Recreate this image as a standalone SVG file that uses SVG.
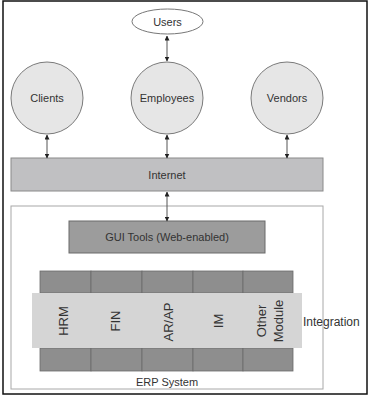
<svg xmlns="http://www.w3.org/2000/svg" width="369" height="400" viewBox="0 0 369 400">
<defs>
<marker id="ah" viewBox="0 0 10 10" refX="9" refY="5" markerWidth="5" markerHeight="5" orient="auto-start-reverse" markerUnits="userSpaceOnUse">
<path d="M0,0 L10,5 L0,10 z" fill="#222"/>
</marker>
<style>
text{font-family:"Liberation Sans",Arial,sans-serif;fill:#333}
.lbl{font-size:11px;text-anchor:middle}
.mod{font-size:13px;text-anchor:middle}
.circ{fill:#e6e6e6;stroke:#7a7a7a;stroke-width:1}
.bar{fill:#8e8e8e;stroke:#6a6a6a;stroke-width:0.8}
.con{stroke:#555;stroke-width:1;fill:none;marker-start:url(#ah);marker-end:url(#ah)}
</style>
</defs>
<rect x="3" y="1" width="364" height="393" fill="#fff" stroke="#111" stroke-width="1.5"/>
<g id="erp">
<rect x="11" y="206" width="312" height="183" fill="#fff" stroke="#a8a8a8" stroke-width="1"/>
<text class="lbl" x="167" y="386">ERP System</text>
</g>
<g id="users">
<ellipse cx="167.5" cy="21.5" rx="35.5" ry="12.5" fill="#fff" stroke="#777"/>
<text class="lbl" x="167.5" y="26">Users</text>
</g>
<g id="clients">
<circle class="circ" cx="47" cy="98" r="36"/>
<text class="lbl" x="47" y="102">Clients</text>
</g>
<g id="employees">
<circle class="circ" cx="167" cy="98" r="36"/>
<text class="lbl" x="167" y="102">Employees</text>
</g>
<g id="vendors">
<circle class="circ" cx="287" cy="98" r="36"/>
<text class="lbl" x="287" y="102">Vendors</text>
</g>
<g id="internet">
<rect x="11" y="158" width="312" height="33" fill="#c0c0c2" stroke="#8a8a8a"/>
<text class="lbl" x="167" y="178.5">Internet</text>
</g>
<g id="gui">
<rect x="69" y="221" width="196" height="32" fill="#9c9c9c" stroke="#6a6a6a"/>
<text class="lbl" x="167" y="241">GUI Tools (Web-enabled)</text>
</g>
<g id="modules">
<rect class="bar" x="40" y="271" width="51" height="22"/>
<rect class="bar" x="91" y="271" width="51" height="22"/>
<rect class="bar" x="142" y="271" width="51" height="22"/>
<rect class="bar" x="193" y="271" width="50" height="22"/>
<rect class="bar" x="243" y="271" width="50" height="22"/>
<rect class="bar" x="40" y="348" width="51" height="23"/>
<rect class="bar" x="91" y="348" width="51" height="23"/>
<rect class="bar" x="142" y="348" width="51" height="23"/>
<rect class="bar" x="193" y="348" width="50" height="23"/>
<rect class="bar" x="243" y="348" width="50" height="23"/>
</g>
<g id="integration">
<rect x="32" y="293" width="270" height="55" fill="#d5d5d5"/>
<text x="303" y="326" style="font-size:12px">Integration</text>
<text class="mod" transform="translate(67.5,321) rotate(-90)">HRM</text>
<text class="mod" transform="translate(120,321) rotate(-90)">FIN</text>
<text class="mod" transform="translate(172.5,322) rotate(-90)">AR/AP</text>
<text class="mod" transform="translate(222.5,321) rotate(-90)">IM</text>
<text class="mod" transform="translate(265.5,321) rotate(-90)">Other</text>
<text class="mod" transform="translate(282.5,321) rotate(-90)">Module</text>
</g>
<g id="connectors">
<line class="con" x1="167" y1="36" x2="167" y2="61"/>
<line class="con" x1="47" y1="135" x2="47" y2="158"/>
<line class="con" x1="167" y1="135" x2="167" y2="158"/>
<line class="con" x1="287" y1="135" x2="287" y2="158"/>
<line class="con" x1="167" y1="192" x2="167" y2="221"/>
</g>
</svg>
